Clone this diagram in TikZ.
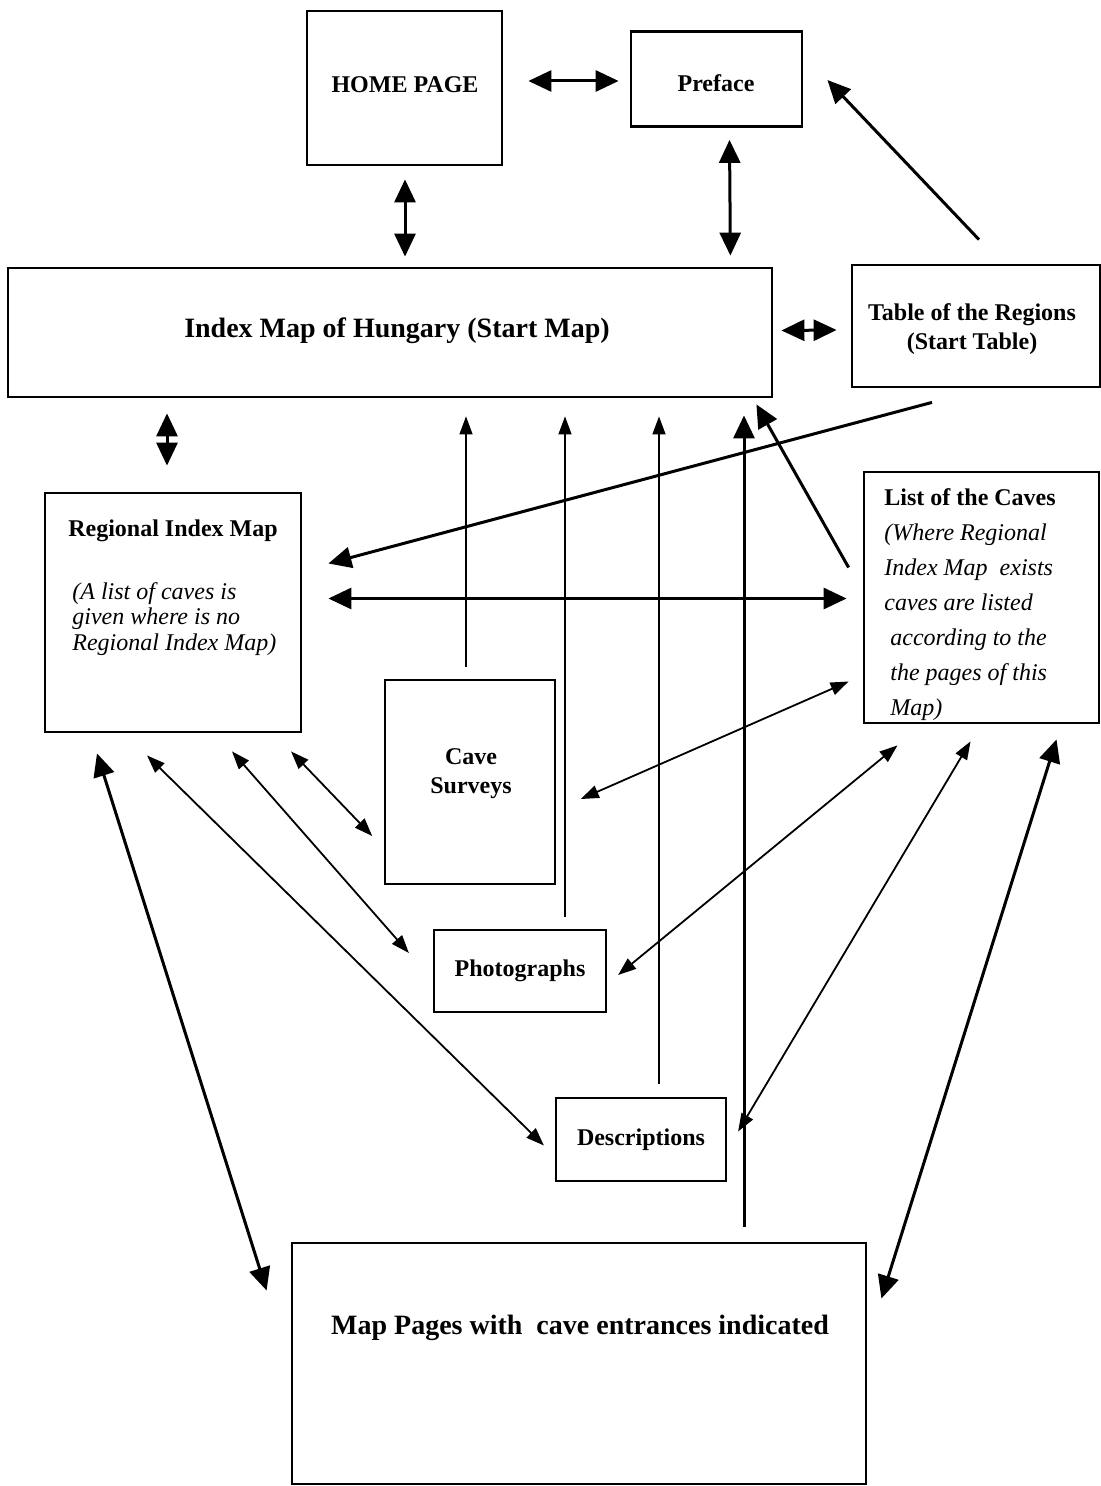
\documentclass[tikz,border=0pt]{standalone}
\usepackage{fontspec}
\setmainfont{Liberation Serif}
\usetikzlibrary{arrows.meta,calc}
\begin{document}
\begin{tikzpicture}[x=0.5pt,y=-0.5pt,
  box/.style={draw, line width=1.4pt, inner sep=0pt, align=center, font=\bfseries\fontsize{12}{14.5}\selectfont},
  thinbox/.style={box, line width=0.8pt},
  midbox/.style={box, line width=1.1pt},
  bigtip/.tip={Triangle[length=11.5pt,width=10.5pt]},
  smalltip/.tip={Triangle[length=9pt,width=6.5pt]},
  thk/.style={line width=1.5pt, bigtip-bigtip},
  thkone/.style={line width=1.5pt, -bigtip},
  thn/.style={line width=0.9pt, smalltip-smalltip},
  vthin/.style={line width=0.7pt, -smalltip},
  boldtxt/.style={font=\bfseries\fontsize{12}{14.5}\selectfont, inner sep=0pt},
]
\useasboundingbox (0,0) rectangle (1101,1486);
\fill[white] (0,0) rectangle (1101,1486);

% boxes
\node[box, minimum width=97.5pt, minimum height=77pt] (home) at (404.5,88) {};
\node[box, minimum width=85.5pt, minimum height=47.5pt] (preface) at (716.5,79) {};
\node[box, minimum width=382pt, minimum height=64.5pt] (index) at (390,332.5) {};
\node[box, minimum width=124pt, minimum height=61pt] (table) at (976,326) {};
\node[box, minimum width=128pt, minimum height=119.5pt] (regional) at (173,612.5) {};
\node[box, minimum width=117.5pt, minimum height=125.5pt] (list) at (981.5,597.5) {};
\node[thinbox, minimum width=85pt, minimum height=102pt] (cave) at (470,782) {};
\node[midbox, minimum width=86pt, minimum height=41pt] (photo) at (520,971) {Photographs};
\node[midbox, minimum width=85pt, minimum height=41.5pt] (desc) at (641,1139.5) {Descriptions};
\node[box, minimum width=287pt, minimum height=120.5pt] (maps) at (579,1363.5) {};

% texts inside boxes
\node[boldtxt] (hometext) at (405,85) {HOME PAGE};
\node[boldtxt] (prefacetext) at (716,83) {Preface};
\node[boldtxt, font=\bfseries\fontsize{14}{17}\selectfont] (indextext) at (397,331) {Index Map of Hungary (Start Map)};
\node[boldtxt, align=center] (tabletext) at (972,329) {Table of the Regions\\(Start Table)};
\node[boldtxt, align=center] (cavetext) at (471,774) {Cave\\Surveys};
\node[boldtxt, font=\bfseries\fontsize{14}{17}\selectfont] (mapstext) at (580,1328) {Map Pages with\ \ cave entrances indicated};
\node[boldtxt] (regtitle) at (173,531) {Regional Index Map};
\node[font=\itshape\fontsize{12}{12.75}\selectfont, align=left, anchor=north west, inner sep=0pt] (regnote) at (72,582) {(A list of caves is\\given where is no\\Regional Index Map)};
\node[boldtxt, anchor=west] (listtitle) at (884,497) {List of the Caves};
\node[font=\itshape\fontsize{12}{17.5}\selectfont, align=left, anchor=north west, inner sep=0pt] (listnote) at (884,523) {(Where Regional\\Index Map\ \ exists\\caves are listed\\\hspace*{3pt}according to the\\\hspace*{3pt}the pages of this\\\hspace*{3pt}Map)};

% connectors
\draw[thk] ($(home.east)+(25,-7)$) -- ($(preface.west)+(-11,2)$);
\draw[thk] ($(home.south)+(0.5,13)$) -- ($(index.north)+(15,-10)$);
\draw[thk] ($(preface.south)+(13,12)$) -- ($(index.north east)+(-43,-11)$);
\draw[thk] ($(index.east)+(8,-2)$) -- ($(table.west)+(-14,4)$);
\draw[thkone] ($(table.north)+(3,-24)$) -- ($(preface.east)+(24,1)$);
\draw[thk] ($(index.south -| regional.north)+(-6,15)$) -- ($(regional.north)+(-6,-26)$);
\draw[thkone] ($(table.south)+(-44,14)$) -- ($(regional.east)+(26,-49)$);
\draw[thk] ($(regional.east)+(26,-14)$) -- ($(list.west)+(-16,1)$);
\draw[thkone] ($(list.west)+(-14,-30)$) -- ($(index.south east)+(-17,6)$);

\draw[vthin] ($(cave.north)+(-4,-12)$) -- ($(index.south -| cave.north)+(-4,18)$);
\draw[vthin] ($(photo.north)+(45,-12)$) -- ($(index.south -| photo.north)+(45,18)$);
\draw[vthin] ($(desc.north)+(18,-13)$) -- ($(index.south -| desc.north)+(18,18)$);
\draw[thkone] ($(maps.north)+(165,-15)$) -- ($(index.south -| maps.north)+(165,17)$);

\draw[thk] ($(regional.south)+(-76,20)$) -- ($(maps.west)+(-24,-73)$);
\draw[thn] ($(regional.south)+(-26,22)$) -- ($(desc.west)+(-11,6)$);
\draw[thn] ($(regional.south)+(59,18)$) -- ($(photo.west)+(-24,-18)$);
\draw[thn] ($(regional.south)+(118,18)$) -- ($(cave.west)+(-12,54)$);

\draw[thn] ($(list.west)+(-14,84)$) -- ($(cave.east)+(25,17)$);
\draw[thn] ($(list.south)+(-84,21)$) -- ($(photo.east)+(11,4)$);
\draw[thn] ($(list.south)+(-11,17)$) -- ($(desc.east)+(11,-8)$);
\draw[thk] ($(list.south)+(75,15)$) -- ($(maps.east)+(14,-65)$);
\end{tikzpicture}
\end{document}
